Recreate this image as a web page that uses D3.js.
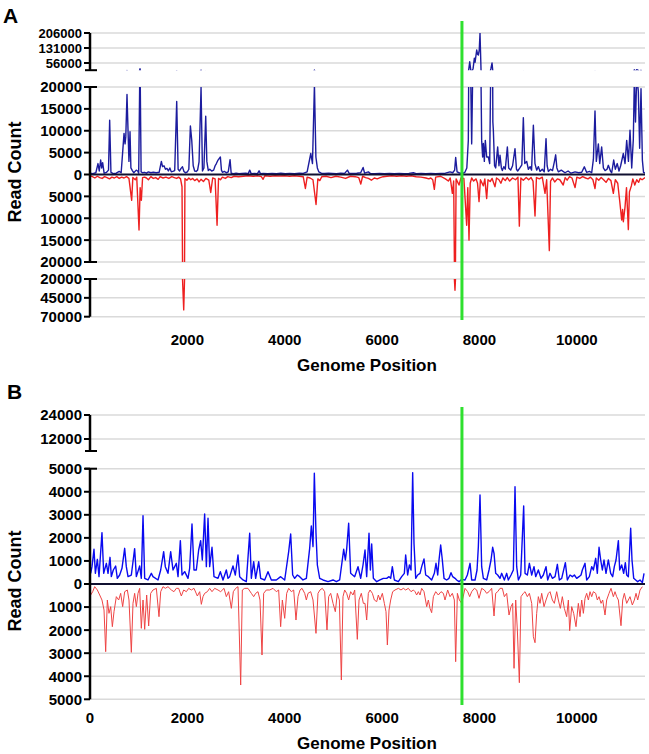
<!DOCTYPE html>
<html><head><meta charset="utf-8">
<script src="https://cdn.jsdelivr.net/npm/d3@7"></script>
<style>body{margin:0;background:#fff}text{font-family:"Liberation Sans",Arial,sans-serif;font-weight:bold;fill:#000}</style>
</head><body>
<script>
// ---------------- DATA ----------------
const genomeMax = 11400;
const markerPosition = 7640;
const xTicksA = [2000, 4000, 6000, 8000, 10000];
const xTicksB = [0, 2000, 4000, 6000, 8000, 10000];
const yTicksATop = [56000, 131000, 206000];
const yTicksAMid = [-20000, -15000, -10000, -5000, 0, 5000, 10000, 15000, 20000];
const yTicksABot = [-70000, -45000, -20000];
const yTicksBTop = [12000, 24000];
const yTicksBMid = [-5000, -4000, -3000, -2000, -1000, 0, 1000, 2000, 3000, 4000, 5000];

// Panel A, forward strand read counts [position, count]
const aForward = [[0,300],[60,200],[120,400],[164,2500],[190,800],[219,3300],[240,1500],[260,2700],[290,300],[340,500],[380,1000],[404,12400],[430,500],[480,200],[540,300],[600,700],[640,400],[699,9400],[720,7000],[735,8600],[760,18300],[780,10500],[800,3000],[822,9800],[840,1500],[870,900],[900,400],[950,1000],[980,800],[1000,300],[1027,27000],[1050,600],[1080,400],[1120,500],[1160,300],[1200,600],[1250,400],[1300,500],[1360,400],[1420,500],[1466,3000],[1490,1800],[1520,2000],[1550,1200],[1580,1400],[1610,800],[1640,1500],[1670,600],[1700,700],[1740,900],[1781,16700],[1810,1200],[1840,800],[1870,1400],[1900,1750],[1930,700],[1960,400],[2000,600],[2030,1200],[2062,11100],[2090,7800],[2120,2000],[2150,800],[2180,700],[2210,1000],[2240,2900],[2281,19900],[2310,800],[2340,1500],[2377,13300],[2400,3000],[2430,900],[2460,1200],[2500,800],[2540,1000],[2570,2000],[2596,2500],[2630,3300],[2678,4000],[2700,1000],[2720,500],[2760,700],[2800,400],[2840,600],[2877,3400],[2900,300],[2950,200],[3000,300],[3060,200],[3120,250],[3200,300],[3250,200],[3281,1000],[3310,200],[3380,250],[3440,200],[3473,850],[3500,200],[3560,250],[3650,200],[3740,250],[3830,200],[3920,300],[4010,200],[4100,250],[4200,200],[4300,300],[4380,250],[4460,600],[4535,4800],[4570,2500],[4610,20500],[4640,4000],[4670,1500],[4700,600],[4750,300],[4820,250],[4900,300],[4980,250],[5060,200],[5150,300],[5230,250],[5288,1000],[5320,300],[5400,250],[5480,300],[5560,400],[5610,1600],[5640,300],[5718,600],[5760,200],[5850,200],[5950,250],[6050,200],[6150,250],[6250,200],[6350,250],[6450,200],[6550,250],[6642,400],[6700,200],[6800,250],[6900,200],[7000,250],[7100,200],[7200,250],[7300,300],[7395,600],[7450,400],[7490,1000],[7511,3900],[7540,600],[7580,400],[7640,200],[7700,500],[7740,1500],[7771,7800],[7800,62000],[7820,22000],[7840,7000],[7870,30000],[7895,80000],[7910,60000],[7943,121000],[7960,100000],[7977,96000],[7995,120000],[8011,205000],[8032,21000],[8045,7800],[8065,4000],[8080,7100],[8100,3000],[8120,7800],[8148,4000],[8182,4000],[8210,2500],[8237,30000],[8258,56000],[8275,12000],[8285,10100],[8310,2000],[8333,1500],[8374,6300],[8400,2000],[8422,4400],[8450,1500],[8470,900],[8500,1800],[8530,1200],[8573,6300],[8600,1500],[8640,1000],[8680,2000],[8730,5900],[8760,1200],[8785,800],[8830,1500],[8870,2200],[8901,13000],[8930,2500],[8970,3000],[9004,1200],[9040,1800],[9070,1000],[9107,11260],[9140,2500],[9175,1000],[9210,1800],[9244,700],[9290,1200],[9330,600],[9367,8200],[9390,2000],[9415,700],[9460,1200],[9500,900],[9538,2900],[9565,4500],[9590,1500],[9620,600],[9680,1000],[9757,400],[9820,800],[9880,300],[9963,600],[10040,400],[10100,500],[10154,1750],[10200,500],[10260,700],[10305,400],[10340,3500],[10373,14500],[10400,3000],[10442,7000],[10470,2500],[10510,6300],[10545,1500],[10580,900],[10620,1200],[10647,2100],[10690,800],[10716,400],[10757,3300],[10790,1200],[10830,2500],[10866,800],[10900,2000],[10955,4800],[10990,2500],[11024,7800],[11060,3000],[11092,10100],[11127,1500],[11160,8000],[11181,22000],[11205,12000],[11230,22500],[11263,19000],[11290,6000],[11318,19600],[11346,3300],[11370,500],[11400,300]];

// Panel A, reverse strand read counts [position, count]
const aReverse = [[0,300],[50,500],[100,800],[150,400],[200,700],[250,900],[300,500],[350,700],[400,1000],[450,600],[500,800],[550,500],[600,900],[650,600],[700,800],[750,500],[800,900],[856,5900],[880,700],[930,1200],[960,600],[1007,12700],[1030,3000],[1055,5900],[1080,700],[1120,600],[1160,800],[1200,1200],[1250,500],[1300,900],[1350,700],[1400,1100],[1440,500],[1500,800],[1560,600],[1620,900],[1680,500],[1730,700],[1780,900],[1820,600],[1860,1000],[1890,2800],[1925,61000],[1950,900],[1990,1300],[2030,800],[2070,1200],[2110,900],[2150,1400],[2200,1000],[2240,1700],[2280,1100],[2330,1600],[2380,900],[2440,1300],[2480,4100],[2520,800],[2570,1000],[2610,11600],[2640,900],[2680,1200],[2720,600],[2780,900],[2830,500],[2900,700],[2960,400],[3050,500],[3150,400],[3250,300],[3350,400],[3450,300],[3520,500],[3555,1100],[3590,300],[3700,400],[3800,300],[3900,350],[4000,300],[4100,400],[4200,300],[4300,400],[4380,500],[4424,3200],[4460,600],[4520,800],[4580,1200],[4643,6850],[4680,1000],[4720,1400],[4760,500],[4850,400],[4950,700],[5050,400],[5150,600],[5250,900],[5350,400],[5450,500],[5520,700],[5562,2200],[5600,400],[5660,700],[5720,900],[5780,1300],[5840,800],[5900,1000],[5960,700],[6020,500],[6100,400],[6200,300],[6300,400],[6400,300],[6500,400],[6600,300],[6700,500],[6800,600],[6900,800],[6960,1000],[7000,800],[7040,1200],[7073,3400],[7100,600],[7200,400],[7300,1000],[7360,1500],[7400,800],[7443,4300],[7470,1500],[7497,35000],[7520,1000],[7580,2400],[7620,800],[7680,900],[7737,11600],[7760,3000],[7785,15000],[7810,2000],[7840,800],[7880,1500],[7930,1000],[7960,2000],[7991,6200],[8020,1200],[8080,2600],[8110,1000],[8148,5500],[8175,1200],[8220,1600],[8260,900],[8319,2800],[8350,800],[8400,1200],[8440,2000],[8480,800],[8530,1400],[8570,700],[8620,1500],[8680,800],[8740,1200],[8790,600],[8819,11800],[8850,800],[8900,1300],[8960,700],[9010,1200],[9060,700],[9100,1500],[9141,9500],[9170,700],[9230,1000],[9290,600],[9346,4300],[9380,1200],[9435,17400],[9460,1500],[9500,800],[9545,1700],[9600,1000],[9650,1200],[9720,2400],[9760,700],[9800,1300],[9850,500],[9900,800],[9963,3000],[10000,600],[10060,900],[10120,500],[10180,800],[10230,1000],[10280,600],[10330,1200],[10373,3200],[10400,800],[10450,1300],[10500,700],[10550,1200],[10600,1800],[10650,900],[10700,1400],[10750,4300],[10790,1200],[10840,2000],[10880,6000],[10921,10400],[10940,8000],[10955,10800],[10990,7400],[11020,3000],[11058,12600],[11080,4000],[11120,2600],[11150,1000],[11190,2400],[11230,1200],[11270,1800],[11300,900],[11340,1200],[11400,700]];

// Panel B, forward strand read counts [position, count]
const bForward = [[14,463],[41,752],[82,1504],[110,463],[151,1070],[185,318],[246,2227],[281,463],[336,897],[370,463],[411,1157],[438,318],[479,607],[527,781],[561,246],[609,390],[657,680],[712,1547],[746,752],[781,318],[849,390],[917,1533],[952,318],[1020,781],[1054,246],[1089,2964],[1123,246],[1191,174],[1260,463],[1294,318],[1397,174],[1452,607],[1513,1403],[1547,752],[1602,463],[1657,1403],[1705,607],[1773,897],[1808,318],[1856,1880],[1890,390],[1945,535],[2013,246],[2047,680],[2095,2603],[2136,607],[2184,607],[2232,1475],[2273,1880],[2307,1041],[2355,3037],[2390,752],[2424,2849],[2458,752],[2506,1591],[2547,318],[2629,246],[2677,535],[2732,174],[2800,607],[2835,246],[2869,318],[2937,781],[2985,390],[3040,1258],[3074,318],[3143,174],[3211,101],[3280,2198],[3314,246],[3362,969],[3403,246],[3465,969],[3506,246],[3588,174],[3656,535],[3725,174],[3827,174],[3916,318],[3999,174],[4081,1403],[4122,2169],[4163,390],[4204,246],[4259,390],[4307,318],[4375,174],[4444,246],[4512,1547],[4546,2516],[4581,1620],[4608,4800],[4642,2198],[4670,824],[4718,246],[4786,174],[4889,101],[4992,174],[5060,101],[5128,174],[5211,1504],[5245,1041],[5272,1504],[5313,2632],[5354,463],[5436,318],[5505,752],[5560,246],[5608,824],[5649,1475],[5683,318],[5731,2198],[5759,607],[5786,1735],[5820,246],[5889,101],[5957,174],[6026,246],[6094,246],[6142,318],[6176,246],[6210,752],[6252,174],[6334,101],[6402,318],[6457,463],[6484,1258],[6525,390],[6560,824],[6594,607],[6628,4830],[6655,1764],[6690,246],[6731,390],[6779,463],[6813,752],[6861,1085],[6895,390],[6950,318],[7018,174],[7073,463],[7107,897],[7142,390],[7169,1041],[7203,1692],[7237,1041],[7272,246],[7326,174],[7374,246],[7415,492],[7450,318],[7498,246],[7532,174],[7580,101],[7635,200],[7703,174],[7751,390],[7806,897],[7840,174],[7909,174],[7950,607],[7977,1620],[8011,3861],[8045,752],[8080,246],[8148,174],[8196,607],[8237,1041],[8271,1591],[8299,1330],[8333,463],[8374,390],[8422,246],[8456,463],[8511,174],[8559,463],[8593,174],[8648,390],[8696,607],[8730,4222],[8764,752],[8799,174],[8847,390],[8908,3384],[8936,463],[8983,390],[9025,897],[9073,390],[9120,752],[9155,318],[9209,607],[9264,246],[9312,390],[9367,752],[9401,174],[9449,463],[9497,246],[9552,318],[9600,853],[9641,174],[9689,246],[9764,925],[9805,174],[9860,390],[9908,318],[9949,390],[9997,246],[10045,318],[10086,390],[10113,607],[10168,897],[10202,174],[10257,318],[10305,752],[10339,607],[10387,1113],[10421,463],[10456,1591],[10490,1041],[10524,607],[10558,1041],[10599,463],[10647,1041],[10695,463],[10736,318],[10770,752],[10805,1041],[10853,1880],[10880,607],[10921,824],[10962,463],[10996,925],[11024,390],[11058,318],[11106,2415],[11133,1041],[11168,246],[11209,174],[11250,101],[11298,174],[11346,58],[11380,463]];

// Panel B, reverse strand read counts [position, count]
const bReverse = [[14,477],[55,333],[96,116],[151,260],[199,477],[246,694],[288,1128],[322,2935],[356,694],[390,1272],[425,983],[459,1851],[493,1200],[541,549],[589,694],[630,405],[671,983],[712,333],[767,260],[801,694],[849,2964],[883,839],[917,405],[952,983],[986,405],[1020,188],[1054,1923],[1089,694],[1123,1967],[1164,477],[1205,1822],[1246,405],[1294,260],[1363,188],[1417,1417],[1452,333],[1499,116],[1547,188],[1602,116],[1671,260],[1725,333],[1773,188],[1821,188],[1876,521],[1924,260],[1979,333],[2027,188],[2082,260],[2136,188],[2205,521],[2253,333],[2287,882],[2321,549],[2355,405],[2410,333],[2458,188],[2506,333],[2561,188],[2629,260],[2684,333],[2753,188],[2800,549],[2848,333],[2903,1056],[2944,333],[2992,188],[3040,116],[3095,4381],[3129,260],[3177,188],[3245,188],[3314,405],[3362,549],[3403,405],[3451,333],[3492,694],[3533,3080],[3567,405],[3622,260],[3691,260],[3759,188],[3827,333],[3875,260],[3916,1851],[3951,694],[3999,1489],[4040,405],[4081,188],[4136,333],[4184,260],[4231,1562],[4273,549],[4314,260],[4355,188],[4410,405],[4444,694],[4478,405],[4533,333],[4581,694],[4642,2140],[4683,405],[4724,260],[4772,188],[4820,333],[4868,1995],[4902,549],[4944,405],[4992,839],[5039,1200],[5080,405],[5122,694],[5163,4164],[5197,549],[5231,260],[5272,405],[5313,694],[5354,333],[5402,477],[5437,260],[5491,2400],[5526,694],[5573,405],[5615,839],[5649,839],[5683,1562],[5717,405],[5752,260],[5800,405],[5841,694],[5889,766],[5923,477],[5957,694],[6005,405],[6046,839],[6080,1200],[6108,2646],[6142,1128],[6176,694],[6217,333],[6265,260],[6334,188],[6388,260],[6436,188],[6484,260],[6539,188],[6594,333],[6642,260],[6676,333],[6710,477],[6745,333],[6779,477],[6813,188],[6861,333],[6916,983],[6950,694],[6984,1056],[7018,1244],[7053,549],[7101,333],[7155,477],[7210,333],[7258,405],[7292,694],[7347,260],[7395,549],[7443,405],[7484,694],[7511,3369],[7546,405],[7587,694],[7635,839],[7703,188],[7758,333],[7799,549],[7840,333],[7895,188],[7943,260],[7991,622],[8045,188],[8100,260],[8148,405],[8196,333],[8251,188],[8299,1388],[8333,405],[8374,333],[8422,188],[8470,188],[8511,549],[8559,405],[8607,1345],[8648,983],[8682,839],[8710,3658],[8744,694],[8778,1995],[8819,4280],[8853,549],[8901,405],[8936,333],[8983,549],[9025,405],[9073,839],[9107,2285],[9141,2545],[9175,1272],[9209,549],[9244,839],[9278,405],[9326,983],[9367,694],[9415,405],[9449,333],[9497,694],[9538,839],[9586,333],[9620,694],[9661,1056],[9702,549],[9743,1056],[9791,1417],[9826,694],[9853,2024],[9894,983],[9935,1272],[9983,1851],[10031,839],[10065,1417],[10100,694],[10134,1272],[10168,622],[10202,405],[10237,694],[10271,333],[10305,549],[10339,333],[10387,405],[10421,694],[10456,549],[10497,839],[10531,694],[10579,1345],[10613,694],[10661,405],[10702,188],[10750,549],[10784,333],[10818,549],[10853,694],[10907,1808],[10942,694],[10976,405],[11024,839],[11058,694],[11092,549],[11140,911],[11181,694],[11216,405],[11250,694],[11298,260],[11346,116]];

// ---------------- DRAWING ----------------
const W = 649, H = 754;
const svg = d3.select("body").append("svg").attr("width", W).attr("height", H);
const x = d3.scaleLinear().domain([0, genomeMax]).range([90, 645]);
const axisX = 90;

function drawPanel(cfg) {
  const g = svg.append("g");
  // grid
  cfg.segments.forEach(seg => {
    const y = d3.scaleLinear().domain(seg.domain).range(seg.range);
    seg.ticks.forEach(t => {
      if (t === 0) return;
      g.append("line").attr("x1", axisX).attr("x2", 645)
        .attr("y1", y(t)).attr("y2", y(t))
        .attr("stroke", "#dadada").attr("stroke-width", 1.5);
    });
  });
  // data
  cfg.segments.forEach((seg, i) => {
    const y = d3.scaleLinear().domain(seg.domain).range(seg.range);
    const id = cfg.id + "clip" + i;
    svg.append("clipPath").attr("id", id).append("rect")
      .attr("x", axisX).attr("width", 645 - axisX)
      .attr("y", seg.range[1]).attr("height", seg.range[0] - seg.range[1]);
    const gg = g.append("g").attr("clip-path", `url(#${id})`);
    const line = d3.line().x(d => x(d[0])).y(d => y(d[1]));
    gg.append("path").datum(cfg.reverse.map(d => [d[0], -d[1]]))
      .attr("d", line).attr("fill", "none")
      .attr("stroke", cfg.revColor).attr("stroke-width", cfg.revWidth).attr("stroke-linejoin", "round");
    gg.append("path").datum(cfg.forward)
      .attr("d", line).attr("fill", "none")
      .attr("stroke", cfg.fwdColor).attr("stroke-width", cfg.fwdWidth).attr("stroke-linejoin", "round");
    if (seg.domain[0] < 0 && seg.domain[1] > 0) {
      g.append("line").attr("x1", axisX).attr("x2", 645).attr("y1", y(0)).attr("y2", y(0))
        .attr("stroke", "#101030").attr("stroke-width", 2);
    }
  });
  // axis segments
  cfg.segments.forEach(seg => {
    const y = d3.scaleLinear().domain(seg.domain).range(seg.range);
    g.append("line").attr("x1", axisX).attr("x2", axisX)
      .attr("y1", seg.range[1]).attr("y2", seg.range[0])
      .attr("stroke", "#000").attr("stroke-width", 2.5);
    seg.ticks.forEach(t => {
      g.append("line").attr("x1", axisX - 6).attr("x2", axisX)
        .attr("y1", y(t)).attr("y2", y(t)).attr("stroke", "#000").attr("stroke-width", 2);
      g.append("text").attr("x", axisX - 8).attr("y", y(t)).attr("dy", "0.36em")
        .attr("text-anchor", "end").style("font-size", (seg.fontSize || 15) + "px").text(Math.abs(t));
    });
    (seg.caps || []).forEach(end => {
      const yy = seg.range[end];
      g.append("line").attr("x1", axisX - 5).attr("x2", axisX + 7)
        .attr("y1", yy).attr("y2", yy).attr("stroke", "#000").attr("stroke-width", 2);
    });
  });
  // x tick labels
  cfg.xTicks.forEach(t => {
    g.append("text").attr("x", x(t)).attr("y", cfg.xLabelY).attr("text-anchor", "middle")
      .style("font-size", "15px").text(t);
  });
  g.append("text").attr("x", 367).attr("y", cfg.xTitleY).attr("text-anchor", "middle")
    .style("font-size", "17px").text("Genome Position");
  g.append("text").attr("transform", `translate(21,${cfg.yTitleY}) rotate(-90)`)
    .attr("text-anchor", "middle").style("font-size", "18px").text("Read Count");
  g.append("text").attr("x", cfg.letter[1]).attr("y", cfg.letter[2])
    .style("font-size", "21px").text(cfg.letter[0]);
  // marker
  g.append("line").attr("x1", x(markerPosition)).attr("x2", x(markerPosition))
    .attr("y1", cfg.markerY[0]).attr("y2", cfg.markerY[1])
    .attr("stroke", "#2fe02f").attr("stroke-width", 3);
}

drawPanel({
  id: "A", forward: aForward, reverse: aReverse,
  fwdColor: "#1c1c9e", fwdWidth: 1.4, revColor: "#ee2020", revWidth: 1.4,
  segments: [
    {domain: [20000, 206000], range: [70.2, 33], ticks: yTicksATop, caps: [0], fontSize: 13},
    {domain: [-20000, 20000], range: [262, 87], ticks: yTicksAMid, caps: [0, 1]},
    {domain: [-70000, -20000], range: [316.7, 279], ticks: yTicksABot, caps: [1]}
  ],
  xTicks: xTicksA, xLabelY: 345, xTitleY: 371, yTitleY: 172,
  letter: ["A", 3, 23], markerY: [21, 320]
});

drawPanel({
  id: "B", forward: bForward, reverse: bReverse,
  fwdColor: "#0a0af0", fwdWidth: 1.4, revColor: "#ee4444", revWidth: 1,
  segments: [
    {domain: [6000, 24000], range: [451, 415], ticks: yTicksBTop, caps: [0]},
    {domain: [-5000, 5000], range: [699.3, 468.7], ticks: yTicksBMid, caps: [1]}
  ],
  xTicks: xTicksB, xLabelY: 723, xTitleY: 749, yTitleY: 581,
  letter: ["B", 7, 399], markerY: [407, 705]
});
</script>
</body></html>
